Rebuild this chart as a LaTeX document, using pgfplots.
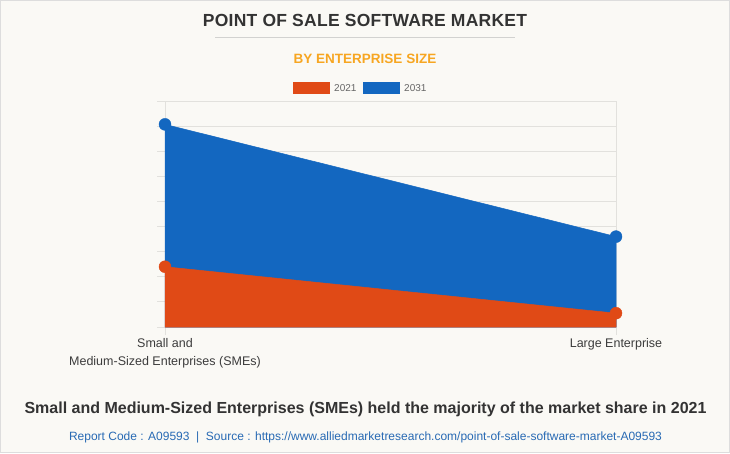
\documentclass[border=0pt]{standalone}
\usepackage{pgfplots}
\pgfplotsset{compat=1.18}
\usepackage{fontspec}
\setmainfont{Liberation Sans}
\definecolor{bgc}{RGB}{250,249,245}
\definecolor{framec}{RGB}{221,221,221}
\definecolor{gridc}{RGB}{226,225,221}
\definecolor{orange21}{RGB}{224,74,22}
\definecolor{blue31}{RGB}{19,103,192}
\definecolor{titlec}{RGB}{51,51,51}
\definecolor{subc}{RGB}{247,166,33}
\definecolor{labc}{RGB}{60,60,60}
\definecolor{legc}{RGB}{102,102,102}
\definecolor{srcc}{RGB}{40,106,180}
\begin{document}
\begin{tikzpicture}[x=1pt,y=1pt]
\fill[bgc] (0,0) rectangle (730,453);
\draw[framec, line width=1pt] (0.5,0.5) rectangle (729.5,452.5);
% titles
\node[anchor=base, text=titlec, font=\fontsize{17.5}{20}\selectfont\bfseries\addfontfeatures{LetterSpace=1.5}, inner sep=0] at (365,426) {POINT OF SALE SOFTWARE MARKET};
\draw[gridc!80!black!60, line width=0.8pt] (215,416) -- (515,416);
\node[anchor=base, text=subc, font=\fontsize{13.5}{16}\selectfont\bfseries, inner sep=0] at (365,389) {BY ENTERPRISE SIZE};
% legend
\fill[orange21] (293,359) rectangle (330,371);
\node[anchor=base west, text=legc, font=\fontsize{10}{12}\selectfont, inner sep=0] at (334,361.5) {2021};
\fill[blue31] (363,359) rectangle (400,371);
\node[anchor=base west, text=legc, font=\fontsize{10}{12}\selectfont, inner sep=0] at (404,361.5) {2031};
\begin{axis}[
  at={(165pt,126pt)}, anchor=south west,
  width=451pt, height=226pt, scale only axis,
  xmin=0, xmax=1, ymin=0, ymax=9,
  xtick={0,1},
  xticklabels={{Small and\\Medium-Sized Enterprises (SMEs)},{Large Enterprise}},
  xticklabel style={align=center, font=\fontsize{12.5}{18}\selectfont, text=labc, inner sep=0pt, anchor=north, yshift=-3pt},
  ytick={0,1,...,9}, yticklabels={},
  xtick pos=bottom, ytick pos=left,
  tick align=outside,
  major tick length=8pt,
  ymajorgrids,
  grid style={gridc, line width=0.8pt},
  axis line style={gridc, line width=0.8pt},
  tick style={gridc, line width=0.8pt},
  axis background/.style={fill=bgc},
  clip=false,
]
\addplot[fill=blue31, draw=blue31, line width=0.5pt] coordinates {(0,8.07) (1,3.60)} \closedcycle;
\addplot[fill=orange21, draw=orange21, line width=0.5pt] coordinates {(0,2.40) (1,0.55)} \closedcycle;
\addplot[only marks, mark=*, mark size=6pt, blue31, mark options={draw=blue31, fill=blue31}] coordinates {(0,8.07) (1,3.60)};
\addplot[only marks, mark=*, mark size=6pt, orange21, mark options={draw=orange21, fill=orange21}] coordinates {(0,2.40) (1,0.55)};
\end{axis}
% bottom texts
\node[anchor=base, text=titlec, font=\fontsize{16}{19}\selectfont\bfseries, inner sep=0] at (365.5,40) {Small and Medium-Sized Enterprises (SMEs) held the majority of the market share in 2021};
\node[anchor=base, text=srcc, font=\fontsize{12}{14}\selectfont, inner sep=0] at (365.5,13) {Report Code : A09593 \ | \ Source : https://www.alliedmarketresearch.com/point-of-sale-software-market-A09593};
\end{tikzpicture}
\end{document}
